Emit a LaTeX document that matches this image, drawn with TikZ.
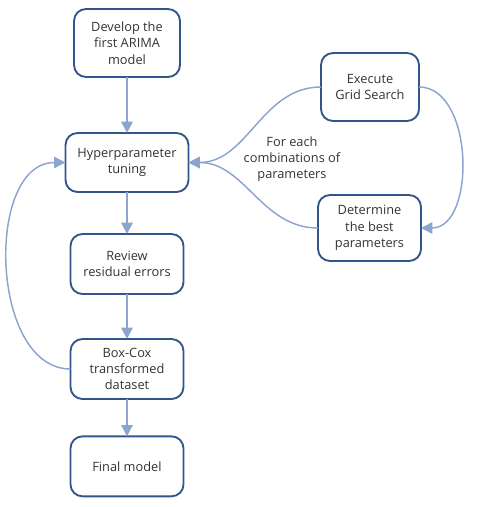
\documentclass[tikz,border=0pt]{standalone}
\usepackage{fontspec}
\setmainfont{Open Sans}
\usetikzlibrary{shapes,arrows.meta,positioning}

\definecolor{boxline}{HTML}{34558A}
\definecolor{arrowblue}{HTML}{8CA5CF}
\definecolor{textgray}{HTML}{333333}

\begin{document}
\begin{tikzpicture}[
    x=0.75pt, y=-0.75pt,
    block/.style={rectangle, rounded corners=9pt, draw=boxline, line width=1.4pt, align=center,
        text=textgray, font=\fontsize{9.6}{12.2}\selectfont, inner sep=2pt, outer sep=0pt},
    arrow/.style={-{Triangle[length=8.5pt,width=8.5pt]}, arrowblue, line width=1.4pt},
    curve/.style={-{Triangle[length=8.5pt,width=8.5pt]}, arrowblue, line width=1.1pt}
]
\useasboundingbox (0,0) rectangle (484,507);
% nodes
\node[block, minimum width=79.5pt, minimum height=51pt] (first) at (127,43) {Develop the\\first ARIMA\\model};
\node[block, minimum width=92.25pt, minimum height=44.25pt, below=42pt of first] (tuning) {Hyperparameter\\tuning};
\node[block, minimum width=84.75pt, minimum height=45pt, below=31.5pt of tuning] (review) {Review\\residual errors};
\node[block, minimum width=84.75pt, minimum height=45pt, below=33.75pt of review] (boxcox) {Box-Cox\\transformed\\dataset};
\node[block, minimum width=84.75pt, minimum height=45pt, below=28pt of boxcox] (final) {Final model};
\node[block, minimum width=73.5pt, minimum height=51pt] (grid) at (370,87) {Execute\\Grid Search};
\node[block, minimum width=77.25pt, minimum height=49.5pt] (best) at (369.5,228) {Determine\\the best\\parameters};

% arrows
\draw[arrow] (first) -- (tuning);
\draw[arrow] (tuning) -- (review);
\draw[arrow] (review) -- (boxcox);
\draw[arrow] (boxcox) -- (final);
\draw[curve] (grid.west) to[out=180, in=0] (tuning.east);
\draw[curve] (best.west) to[out=180, in=0] (tuning.east);
\draw[curve] (grid.east) to[out=0, in=0] (best.east);
\draw[curve] (boxcox.west) to[out=180, in=180] (tuning.west);

% label
\node[align=center, text=textgray, font=\fontsize{9.6}{12.2}\selectfont] (each) at (292,159) {For each\\combinations of\\parameters};
\end{tikzpicture}
\end{document}
